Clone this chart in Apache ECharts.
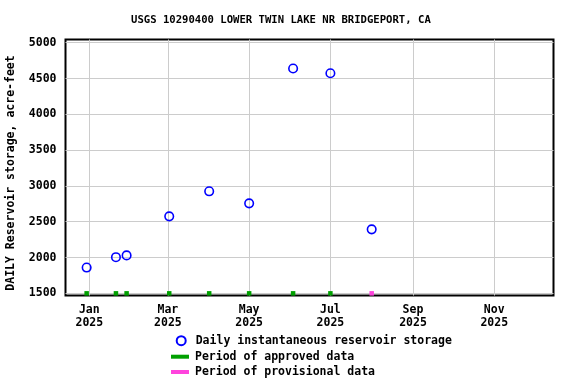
<!DOCTYPE html>
<html>
<head>
<meta charset="utf-8">
<script src="https://cdn.jsdelivr.net/npm/echarts@6/dist/echarts.min.js"></script>
<style>html,body{margin:0;padding:0;background:#fff;}#c{width:576px;height:384px;}</style>
</head>
<body>
<div id="c"></div>
<script>
// ---- data ----
const titleText = 'USGS 10290400 LOWER TWIN LAKE NR BRIDGEPORT, CA';
const yAxisTitle = 'DAILY Reservoir storage, acre-feet';
const obsDates = ['2024-12-30','2025-01-21','2025-01-29','2025-03-02','2025-04-01','2025-05-01','2025-06-03','2025-07-01','2025-08-01'];
const storage = [1860, 2005, 2030, 2575, 2925, 2757, 4640, 4573, 2394];
const approvedDates = ['2024-12-30','2025-01-21','2025-01-29','2025-03-02','2025-04-01','2025-05-01','2025-06-03','2025-07-01'];
const provisionalDates = ['2025-08-01'];
const periodLevel = 1500;
const monthTicks = ['2025-01-01','2025-03-01','2025-05-01','2025-07-01','2025-09-01','2025-11-01'];
const monthNames = ['Jan','Feb','Mar','Apr','May','Jun','Jul','Aug','Sep','Oct','Nov','Dec'];
const yTicks = [1500, 2000, 2500, 3000, 3500, 4000, 4500, 5000];
const seriesNames = ['Daily instantaneous reservoir storage','Period of approved data','Period of provisional data'];

const FONT = '"DejaVu Sans Mono", "Liberation Mono", monospace';
const toTs = s => new Date(s).getTime();
const xTickTs = monthTicks.map(s => toTs(s + 'T00:00:00'));

const chart = echarts.init(document.getElementById('c'), null, {renderer: 'canvas'});
const legendBase = {
  orient: 'vertical', padding: 0, itemGap: 0, selectedMode: false,
  textStyle: {fontFamily: FONT, fontWeight: 'bold', fontSize: 11.5, color: '#000', lineHeight: 14}
};
chart.setOption({
  animation: false,
  backgroundColor: '#fff',
  title: {
    text: titleText, left: 131, top: 14.5, padding: 0,
    textStyle: {fontFamily: FONT, fontWeight: 'bold', fontSize: 10.6, color: '#000', lineHeight: 12}
  },
  grid: {left: 65.5, right: 22.5, top: 39.5, bottom: 88.5, show: true, borderColor: '#000', borderWidth: 2, backgroundColor: 'transparent'},
  xAxis: {
    type: 'value',
    min: toTs('2024-12-14T03:00:00'),
    max: toTs('2025-12-15T12:00:00'),
    axisLine: {show: false},
    axisTick: {show: false, customValues: xTickTs},
    splitLine: {show: true, lineStyle: {color: '#cccccc', width: 1}},
    axisLabel: {
      customValues: xTickTs,
      margin: 8,
      fontFamily: FONT, fontWeight: 'bold', fontSize: 11.5, color: '#000', lineHeight: 13,
      formatter: v => { const d = new Date(v); return monthNames[d.getMonth()] + '\n' + d.getFullYear(); }
    }
  },
  yAxis: {
    type: 'value', min: 1470, max: 5045,
    axisLine: {show: false},
    axisTick: {show: false, customValues: yTicks},
    splitLine: {show: true, lineStyle: {color: '#cccccc', width: 1}},
    axisLabel: {customValues: yTicks, margin: 9, fontFamily: FONT, fontWeight: 'bold', fontSize: 11.5, color: '#000',
      formatter: v => String(v)}
  },
  graphic: [{
    type: 'text', x: 11.5, y: 173, rotation: Math.PI / 2,
    style: {text: yAxisTitle, fontFamily: FONT, fontWeight: 'bold', fontSize: 11.5, fill: '#000', align: 'center', verticalAlign: 'middle'}
  }],
  legend: [
    Object.assign({}, legendBase, {left: 175.7, top: 333.7, itemWidth: 9, itemHeight: 9, data: [{name: seriesNames[0], icon: 'circle', textStyle: {padding: [0,0,0,5]}}]}),
    Object.assign({}, legendBase, {left: 171, top: 349.7, itemWidth: 18, itemHeight: 4, data: [{name: seriesNames[1], icon: 'rect', textStyle: {padding: [0,0,0,1]}}]}),
    Object.assign({}, legendBase, {left: 171, top: 365, itemWidth: 18, itemHeight: 4, data: [{name: seriesNames[2], icon: 'rect', textStyle: {padding: [0,0,0,1]}}]})
  ],
  series: [
    {
      name: seriesNames[1], type: 'scatter', symbol: 'rect', symbolSize: 4.5, z: 2,
      itemStyle: {color: '#00a000', opacity: 1},
      data: approvedDates.map(d => [toTs(d + 'T00:00:00'), periodLevel])
    },
    {
      name: seriesNames[2], type: 'scatter', symbol: 'rect', symbolSize: 4.5, z: 2,
      itemStyle: {color: '#ff44dd', opacity: 1},
      data: provisionalDates.map(d => [toTs(d + 'T00:00:00'), periodLevel])
    },
    {
      name: seriesNames[0], type: 'scatter', symbol: 'circle', symbolSize: 8.5, z: 3,
      itemStyle: {color: 'rgba(255,255,255,0)', borderColor: '#0000ff', borderWidth: 1.6, opacity: 1},
      data: obsDates.map((d, i) => [toTs(d + 'T00:00:00'), storage[i]])
    }
  ]
});
</script>
</body>
</html>
